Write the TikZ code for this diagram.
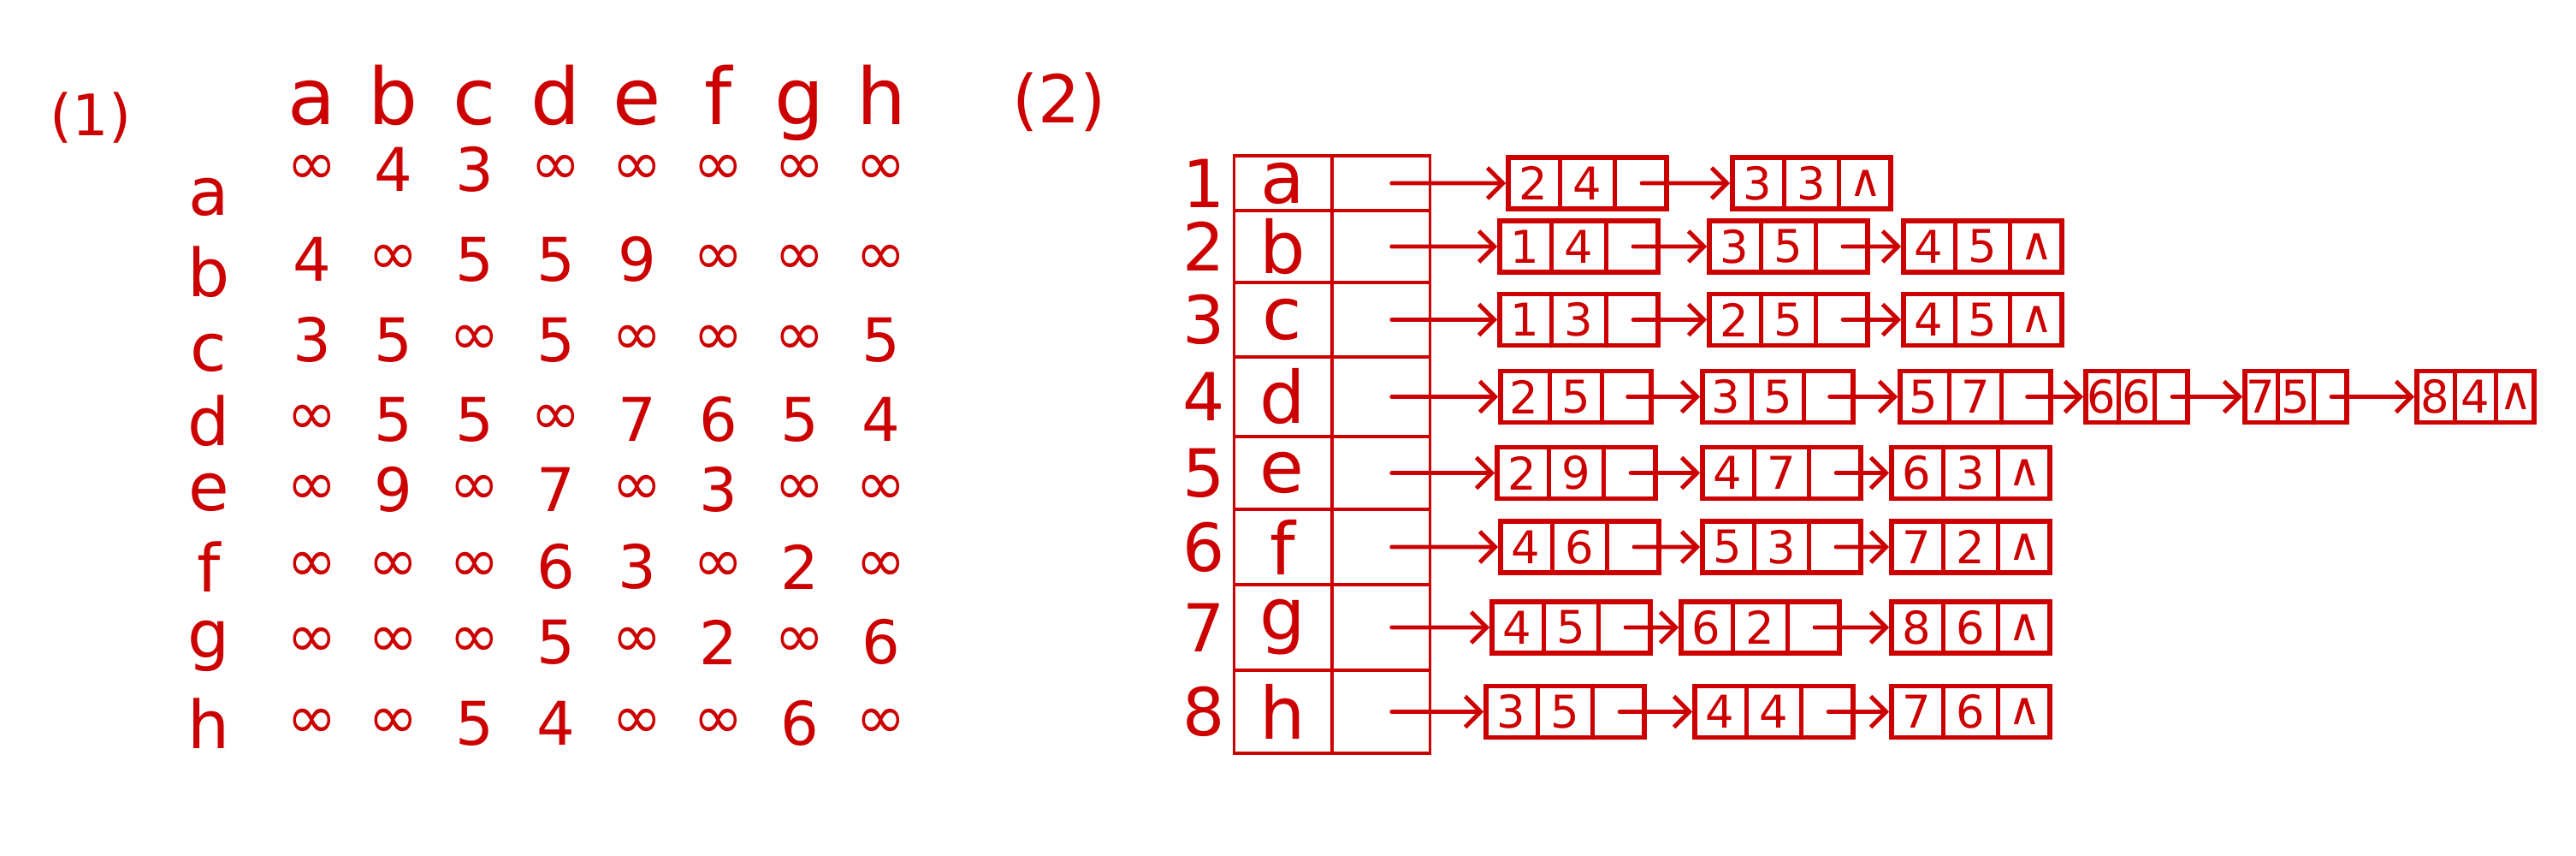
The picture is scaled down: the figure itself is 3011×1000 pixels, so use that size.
\documentclass[tikz,border=0pt]{standalone}
\usepackage{fontspec}
\setmainfont{DejaVu Sans}
\usetikzlibrary{positioning, shapes.multipart, arrows.meta, calc}
\definecolor{inkred}{RGB}{204,0,0}

\begin{document}
\begin{tikzpicture}[
    x=0.01cm, y=-0.01cm,
    color=inkred, line cap=round,
    tag/.style={font=\fontsize{19}{22}\selectfont},
    head/.style={font=\fontsize{26}{30}\selectfont, anchor=base},
    lab/.style={font=\fontsize{22}{26}\selectfont, inner sep=1pt},
    val/.style={font=\fontsize{20}{24}\selectfont, inner sep=1pt},
    num/.style={font=\fontsize{22}{26}\selectfont},
    vrow/.style={rectangle split, rectangle split horizontal, rectangle split parts=2, draw, line width=0.9pt, inner sep=0pt, text width=11.3mm, align=center, minimum height=#1, font=\fontsize{24}{28}\selectfont},
    listnode/.style={rectangle split, rectangle split horizontal, rectangle split parts=3, draw, line width=1.6pt, inner sep=0pt, text width=#1, align=center, minimum height=6mm, anchor=west, font=\fontsize{15}{18}\selectfont},
    listnode/.default=5.8mm,
    arrow/.style={-{Straight Barb[length=1.8mm, width=3.6mm]}, line width=1.4pt}
]
\useasboundingbox (0,0) rectangle (3011,1000);

% (1) Adjacency matrix
\node[tag] (t1) at (106,138) {(1)};
\foreach \c [count=\i] in {a,b,c,d,e,f,g,h}
  \node[head] (h\c) at ({365+95*(\i-1)},145) {\c};
\foreach \r/\ly/\vy/\vals in {a/230/198/{∞,4,3,∞,∞,∞,∞,∞},
                              b/318/303/{4,∞,5,5,9,∞,∞,∞},
                              c/412/397/{3,5,∞,5,∞,∞,∞,5},
                              d/492/490/{∞,5,5,∞,7,6,5,4},
                              e/575/572/{∞,9,∞,7,∞,3,∞,∞},
                              f/662/662/{∞,∞,∞,6,3,∞,2,∞},
                              g/755/750/{∞,∞,∞,5,∞,2,∞,6},
                              h/845/845/{∞,∞,5,4,∞,∞,6,∞}} {
  \node[lab] (r\r) at (244,\ly) {\r};
  \foreach \v [count=\i] in \vals
    \node[val] (m\r\i) at ({365+95*(\i-1)},\vy) {\v};
}

% (2) Adjacency list
\node[tag, font=\fontsize{22}{26}\selectfont] (t2) at (1238,119) {(2)};
\foreach \n/\l/\y/\h in {1/a/214/6.4mm, 2/b/288/8.4mm, 3/c/373.5/8.7mm, 4/d/463.5/9.3mm,
                         5/e/552.5/8.5mm, 6/f/639/8.8mm, 7/g/733/10mm, 8/h/831.5/9.7mm} {
  \node[vrow=\h] (v\n) at (1557,\y) {\l \nodepart{two} };
  \node[num] (i\n) at (1407,\y) {\n};
}

% Row a
\node[listnode] (a1) at (1760,214) {2 \nodepart{two} 4 \nodepart{three} };
\node[listnode] (a2) at (2022,214) {3 \nodepart{two} 3 \nodepart{three} ∧};
\draw[arrow] ($(v1.one split)!0.6!(v1.east)$) -- (a1);
\draw[arrow] ($(a1.two split north)!0.5!(a1.south east)$) -- (a2);

% Row b
\node[listnode] (b1) at (1750,288) {1 \nodepart{two} 4 \nodepart{three} };
\node[listnode] (b2) at (1995,288) {3 \nodepart{two} 5 \nodepart{three} };
\node[listnode] (b3) at (2222,288) {4 \nodepart{two} 5 \nodepart{three} ∧};
\draw[arrow] ($(v2.one split)!0.6!(v2.east)$) -- (b1);
\draw[arrow] ($(b1.two split north)!0.5!(b1.south east)$) -- (b2);
\draw[arrow] ($(b2.two split north)!0.5!(b2.south east)$) -- (b3);

% Row c
\node[listnode] (c1) at (1750,373.5) {1 \nodepart{two} 3 \nodepart{three} };
\node[listnode] (c2) at (1995,373.5) {2 \nodepart{two} 5 \nodepart{three} };
\node[listnode] (c3) at (2222,373.5) {4 \nodepart{two} 5 \nodepart{three} ∧};
\draw[arrow] ($(v3.one split)!0.6!(v3.east)$) -- (c1);
\draw[arrow] ($(c1.two split north)!0.5!(c1.south east)$) -- (c2);
\draw[arrow] ($(c2.two split north)!0.5!(c2.south east)$) -- (c3);

% Row d
\node[listnode=5.5mm] (d1) at (1751,463.5) {2 \nodepart{two} 5 \nodepart{three} };
\node[listnode=5.5mm] (d2) at (1987,463.5) {3 \nodepart{two} 5 \nodepart{three} };
\node[listnode=5.5mm] (d3) at (2218,463.5) {5 \nodepart{two} 7 \nodepart{three} };
\node[listnode=3.6mm] (d4) at (2435,463.5) {6 \nodepart{two} 6 \nodepart{three} };
\node[listnode=3.6mm] (d5) at (2621,463.5) {7 \nodepart{two} 5 \nodepart{three} };
\node[listnode=4.2mm] (d6) at (2822,463.5) {8 \nodepart{two} 4 \nodepart{three} ∧};
\draw[arrow] ($(v4.one split)!0.6!(v4.east)$) -- (d1);
\draw[arrow] ($(d1.two split north)!0.5!(d1.south east)$) -- (d2);
\draw[arrow] ($(d2.two split north)!0.5!(d2.south east)$) -- (d3);
\draw[arrow] ($(d3.two split north)!0.5!(d3.south east)$) -- (d4);
\draw[arrow] ($(d4.two split north)!0.5!(d4.south east)$) -- (d5);
\draw[arrow] ($(d5.two split north)!0.5!(d5.south east)$) -- (d6);

% Row e
\node[listnode] (e1) at (1747,552.5) {2 \nodepart{two} 9 \nodepart{three} };
\node[listnode] (e2) at (1987,552.5) {4 \nodepart{two} 7 \nodepart{three} };
\node[listnode] (e3) at (2208,552.5) {6 \nodepart{two} 3 \nodepart{three} ∧};
\draw[arrow] ($(v5.one split)!0.6!(v5.east)$) -- (e1);
\draw[arrow] ($(e1.two split north)!0.5!(e1.south east)$) -- (e2);
\draw[arrow] ($(e2.two split north)!0.5!(e2.south east)$) -- (e3);

% Row f
\node[listnode] (f1) at (1751,639) {4 \nodepart{two} 6 \nodepart{three} };
\node[listnode] (f2) at (1987,639) {5 \nodepart{two} 3 \nodepart{three} };
\node[listnode] (f3) at (2208,639) {7 \nodepart{two} 2 \nodepart{three} ∧};
\draw[arrow] ($(v6.one split)!0.6!(v6.east)$) -- (f1);
\draw[arrow] ($(f1.two split north)!0.5!(f1.south east)$) -- (f2);
\draw[arrow] ($(f2.two split north)!0.5!(f2.south east)$) -- (f3);

% Row g
\node[listnode] (g1) at (1741,733) {4 \nodepart{two} 5 \nodepart{three} };
\node[listnode] (g2) at (1962,733) {6 \nodepart{two} 2 \nodepart{three} };
\node[listnode] (g3) at (2208,733) {8 \nodepart{two} 6 \nodepart{three} ∧};
\draw[arrow] ($(v7.one split)!0.6!(v7.east)$) -- (g1);
\draw[arrow] ($(g1.two split north)!0.5!(g1.south east)$) -- (g2);
\draw[arrow] ($(g2.two split north)!0.5!(g2.south east)$) -- (g3);

% Row h
\node[listnode] (h1) at (1734,831.5) {3 \nodepart{two} 5 \nodepart{three} };
\node[listnode] (h2) at (1978,831.5) {4 \nodepart{two} 4 \nodepart{three} };
\node[listnode] (h3) at (2208,831.5) {7 \nodepart{two} 6 \nodepart{three} ∧};
\draw[arrow] ($(v8.one split)!0.6!(v8.east)$) -- (h1);
\draw[arrow] ($(h1.two split north)!0.5!(h1.south east)$) -- (h2);
\draw[arrow] ($(h2.two split north)!0.5!(h2.south east)$) -- (h3);

\end{tikzpicture}
\end{document}
